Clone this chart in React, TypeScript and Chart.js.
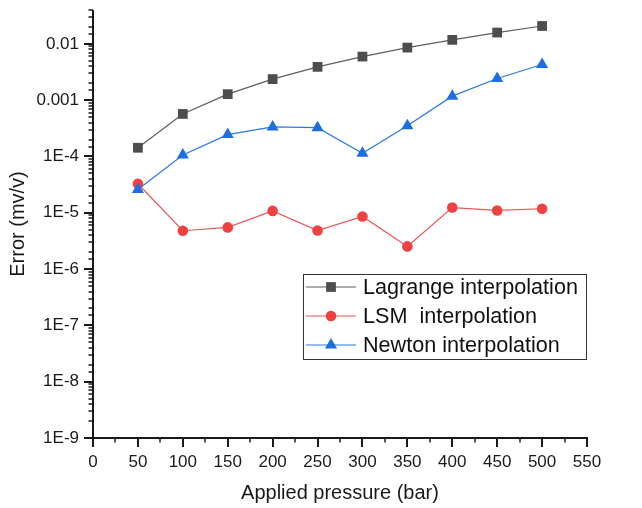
import React, { useEffect, useRef } from 'react';
import { Chart, registerables } from 'chart.js';

Chart.register(...registerables);

const pressures = [50, 100, 150, 200, 250, 300, 350, 400, 450, 500];
const lagrange = [1.43e-4, 5.7e-4, 1.28e-3, 2.37e-3, 3.91e-3, 5.95e-3, 8.6e-3, 1.18e-2, 1.59e-2, 2.08e-2];
const lsm = [3.28e-5, 4.8e-6, 5.5e-6, 1.08e-5, 4.85e-6, 8.6e-6, 2.53e-6, 1.24e-5, 1.1e-5, 1.18e-5];
const newton = [2.6e-5, 1.06e-4, 2.45e-4, 3.35e-4, 3.25e-4, 1.14e-4, 3.5e-4, 1.18e-3, 2.43e-3, 4.3e-3];

const seriesNames = ['Lagrange interpolation', 'LSM  interpolation', 'Newton interpolation'];
const xTitle = 'Applied pressure (bar)';
const yTitle = 'Error (mv/v)';

const FONT = "'Liberation Sans', Arial, Helvetica, sans-serif";
const AXIS = '#1a1a1a';

const isDecade = (v: number) => {
  const l = Math.log10(v);
  return Math.abs(l - Math.round(l)) < 1e-6;
};

const yLabel = (v: number) => {
  if (!isDecade(v)) return '';
  const e = Math.round(Math.log10(v));
  if (e >= -3) return String(Number(v.toFixed(-e)));
  return '1E' + e;
};

function drawMarker(ctx: CanvasRenderingContext2D, style: string, x: number, y: number, r: number, color: string) {
  ctx.fillStyle = color;
  ctx.beginPath();
  if (style === 'rect') {
    const s = Math.SQRT1_2 * r;
    ctx.rect(x - s, y - s, 2 * s, 2 * s);
  } else if (style === 'circle') {
    ctx.arc(x, y, r, 0, Math.PI * 2);
  } else {
    ctx.moveTo(x, y - r);
    ctx.lineTo(x + r * Math.sin(2 * Math.PI / 3), y - r * Math.cos(2 * Math.PI / 3));
    ctx.lineTo(x + r * Math.sin(4 * Math.PI / 3), y - r * Math.cos(4 * Math.PI / 3));
    ctx.closePath();
  }
  ctx.fill();
}

const axesPlugin = {
  id: 'originAxes',
  afterDraw(chart: any) {
    const { ctx, chartArea: ca, scales } = chart;
    const xs = scales.x;
    const ys = scales.y;
    ctx.save();
    ctx.strokeStyle = AXIS;
    ctx.lineWidth = 2;
    ctx.beginPath();
    ctx.moveTo(ca.left, ca.top);
    ctx.lineTo(ca.left, ca.bottom);
    ctx.lineTo(ca.right + 1, ca.bottom);
    ctx.stroke();

    ys.ticks.forEach((t: any) => {
      const py = Math.round(ys.getPixelForValue(t.value));
      const major = isDecade(t.value);
      ctx.lineWidth = major ? 2 : 1.5;
      ctx.beginPath();
      ctx.moveTo(ca.left - (major ? 9 : 4.5), py);
      ctx.lineTo(ca.left, py);
      ctx.stroke();
    });
    xs.ticks.forEach((t: any) => {
      const px = Math.round(xs.getPixelForValue(t.value));
      const major = t.value % 50 === 0;
      ctx.lineWidth = major ? 2 : 1.5;
      ctx.beginPath();
      ctx.moveTo(px, ca.bottom);
      ctx.lineTo(px, ca.bottom + (major ? 9 : 4.5));
      ctx.stroke();
    });

    // legend
    const bx = 303.5, by = 274.5, bw = 283, bh = 85;
    ctx.lineWidth = 1;
    ctx.strokeStyle = '#333333';
    ctx.strokeRect(bx, by, bw, bh);
    ctx.font = `21.6px ${FONT}`;
    ctx.textBaseline = 'middle';
    ctx.textAlign = 'left';
    chart.data.datasets.forEach((ds: any, i: number) => {
      const cy = 287 + i * 29;
      ctx.strokeStyle = ds.borderColor;
      ctx.lineWidth = 1.2;
      ctx.beginPath();
      ctx.moveTo(306, cy);
      ctx.lineTo(356, cy);
      ctx.stroke();
      drawMarker(ctx, ds.pointStyle, 331, cy, ds.pointRadius, ds.pointBackgroundColor);
      ctx.fillStyle = '#111111';
      ctx.fillText(ds.label, 363, cy + 1);
    });
    ctx.restore();
  },
};

export default function App() {
  const ref = useRef<HTMLCanvasElement | null>(null);
  useEffect(() => {
    if (!ref.current) return;
    const mk = (arr: number[]) => pressures.map((p, i) => ({ x: p, y: arr[i] }));
    const chart = new Chart(ref.current, {
      type: 'line',
      data: {
        datasets: [
          {
            label: seriesNames[0],
            data: mk(lagrange),
            borderColor: '#5e5e5e',
            borderWidth: 1.2,
            pointStyle: 'rect',
            pointRadius: 6.9,
            pointBackgroundColor: '#4d4d4d',
            pointBorderWidth: 0,
            order: 2,
          },
          {
            label: seriesNames[1],
            data: mk(lsm),
            borderColor: '#f05555',
            borderWidth: 1.2,
            pointStyle: 'circle',
            pointRadius: 5.3,
            pointBackgroundColor: '#ef4141',
            pointBorderWidth: 0,
            order: 1,
          },
          {
            label: seriesNames[2],
            data: mk(newton),
            borderColor: '#2a7ae6',
            borderWidth: 1.2,
            pointStyle: 'triangle',
            pointRadius: 7,
            pointBackgroundColor: '#1b6fe0',
            pointBorderWidth: 0,
            order: 0,
          },
        ] as any,
      },
      options: {
        animation: false,
        responsive: false,
        layout: { padding: { top: 10, right: 55, left: 0, bottom: 0 } },
        plugins: { legend: { display: false }, tooltip: { enabled: false } },
        elements: { line: { tension: 0 } },
        scales: {
          x: {
            type: 'linear',
            min: 0,
            max: 550,
            grid: { display: false, drawTicks: false },
            border: { display: false },
            ticks: {
              stepSize: 25,
              autoSkip: false,
              maxRotation: 0,
              padding: 14,
              color: AXIS,
              font: { family: FONT, size: 17 },
              callback: (v: any) => (Number(v) % 50 === 0 ? String(v) : ''),
            },
            title: {
              display: true,
              text: xTitle,
              color: AXIS,
              font: { family: FONT, size: 20 },
              padding: { top: 0, bottom: 3 },
            },
            afterFit: (s: any) => { s.height = 70; s.paddingLeft = 0; s.paddingRight = 0; },
          },
          y: {
            type: 'logarithmic',
            min: 1e-9,
            max: 0.04,
            grid: { display: false, drawTicks: false },
            border: { display: false },
            ticks: {
              autoSkip: false,
              padding: 14,
              color: AXIS,
              font: { family: FONT, size: 17 },
              callback: (v: any) => yLabel(Number(v)),
            },
            title: {
              display: true,
              text: yTitle,
              color: AXIS,
              font: { family: FONT, size: 20 },
              padding: { top: 6, bottom: 0 },
            },
            afterFit: (s: any) => { s.width = 93; s.paddingTop = 0; s.paddingBottom = 0; },
          },
        },
      } as any,
      plugins: [axesPlugin],
    });
    return () => chart.destroy();
  }, []);
  return (
    <div style={{ position: 'fixed', left: 0, top: 0, width: 642, height: 508, background: '#fff' }}>
      <canvas ref={ref} width={642} height={508} />
    </div>
  );
}
